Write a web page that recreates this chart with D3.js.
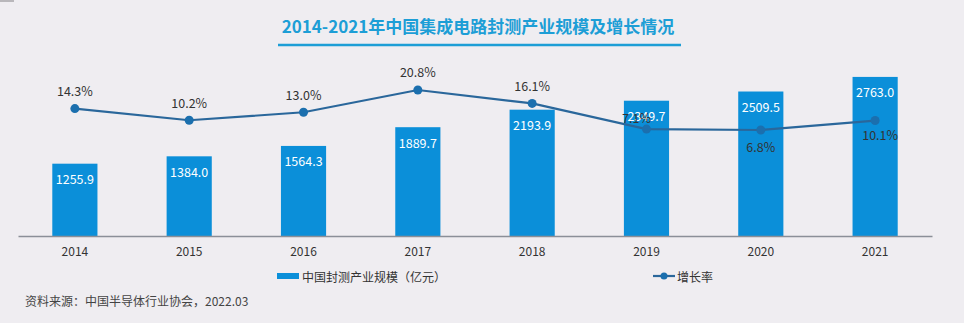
<!DOCTYPE html>
<html>
<head>
<meta charset="utf-8">
<script src="https://cdn.jsdelivr.net/npm/d3@7"></script>
<style>
  html, body { margin: 0; padding: 0; background: #efedf1; }
  svg { display: block; }
</style>
</head>
<body>
<div class="svg-container"></div>
<script>
    const chart_width = 964;
    const chart_height = 323;

    const years = ["2014", "2015", "2016", "2017", "2018", "2019", "2020", "2021"];
    const scale_values = [1255.9, 1384.0, 1564.3, 1889.7, 2193.9, 2349.7, 2509.5, 2763.0];
    const growth_rates = [14.3, 10.2, 13.0, 20.8, 16.1, 7.1, 6.8, 10.1];
    // vertical / horizontal offset of each rate label from its point
    const rate_label_dy = [-18, -18, -18, -18, -18, -12, 17, 14];
    const rate_label_dx = [0, 0, 0, 0, 0, -10, 0, 5];

    const font_cjk = "'Noto Sans CJK SC', 'Noto Sans', sans-serif";

    const svg = d3.select('.svg-container').append('svg')
        .attr('width', chart_width).attr('height', chart_height)
        .style('font-family', font_cjk);

    svg.append('rect')
        .attr('width', chart_width).attr('height', chart_height)
        .attr('fill', '#efedf1');
    // thin grey strip in the top left corner
    svg.append('rect')
        .attr('x', 0).attr('y', 0).attr('width', 14).attr('height', 2)
        .attr('fill', '#b9b7bb');

    // title
    svg.append('text')
        .attr('x', 478).attr('y', 25)
        .attr('text-anchor', 'middle')
        .attr('dominant-baseline', 'central')
        .attr('font-size', 17).attr('font-weight', 'bold')
        .attr('fill', '#1d9ed6')
        .text('2014-2021年中国集成电路封测产业规模及增长情况');
    svg.append('line')
        .attr('x1', 278).attr('x2', 681).attr('y1', 45).attr('y2', 45)
        .attr('stroke', '#1d9ed6').attr('stroke-width', 2.5);

    const x = d3.scaleBand().domain(years).range([18, 932]).paddingInner(0.605).paddingOuter(0.3);
    const y_bar = d3.scaleLinear().domain([0, 3300]).range([236, 46]);
    const y_rate = d3.scaleLinear().domain([0, 25]).range([149.4, 78]);

    const g = svg.append('g');

    // bars
    g.selectAll('rect.bar')
        .data(scale_values)
        .enter().append('rect')
          .attr('class', 'bar')
          .attr('x', (d, i) => x(years[i]))
          .attr('y', d => y_bar(d))
          .attr('width', x.bandwidth())
          .attr('height', d => y_bar(0) - y_bar(d))
          .attr('fill', '#0b8fd9');

    g.selectAll('text.bar-label')
        .data(scale_values)
        .enter().append('text')
          .attr('class', 'bar-label')
          .attr('x', (d, i) => x(years[i]) + x.bandwidth() / 2)
          .attr('y', d => y_bar(d) + 15)
          .attr('text-anchor', 'middle')
          .attr('dominant-baseline', 'central')
          .attr('font-size', 12.5)
          .attr('fill', '#ffffff')
          .text(d => d.toFixed(1));

    // x axis
    const x_axis = g.append('g')
        .attr('transform', 'translate(0,236)')
        .call(d3.axisBottom(x).tickSize(0).tickPadding(11));
    x_axis.select('.domain').attr('stroke', '#8b8f98').attr('stroke-width', 1.5);
    x_axis.selectAll('text')
        .attr('font-size', 12).attr('fill', '#333333')
        .style('font-family', font_cjk);

    // growth line
    const line = d3.line()
        .x((d, i) => x(years[i]) + x.bandwidth() / 2)
        .y(d => y_rate(d));
    g.append('path')
        .datum(growth_rates)
        .attr('d', line)
        .attr('fill', 'none')
        .attr('stroke', '#2a679b')
        .attr('stroke-width', 2.2);
    g.selectAll('circle.pt')
        .data(growth_rates)
        .enter().append('circle')
          .attr('class', 'pt')
          .attr('cx', (d, i) => x(years[i]) + x.bandwidth() / 2)
          .attr('cy', d => y_rate(d))
          .attr('r', 4.5)
          .attr('fill', '#1b6fae');
    g.selectAll('text.rate-label')
        .data(growth_rates)
        .enter().append('text')
          .attr('class', 'rate-label')
          .attr('x', (d, i) => x(years[i]) + x.bandwidth() / 2 + rate_label_dx[i])
          .attr('y', (d, i) => y_rate(d) + rate_label_dy[i])
          .attr('text-anchor', 'middle')
          .attr('dominant-baseline', 'central')
          .attr('font-size', 12.5)
          .attr('fill', '#333333')
          .text(d => d.toFixed(1) + '%');

    // legend
    const legend = svg.append('g');
    legend.append('rect')
        .attr('x', 277).attr('y', 273).attr('width', 22).attr('height', 6)
        .attr('fill', '#0b8fd9');
    legend.append('text')
        .attr('x', 302).attr('y', 276)
        .attr('dominant-baseline', 'central')
        .attr('font-size', 12).attr('fill', '#333333')
        .text('中国封测产业规模（亿元）');
    legend.append('line')
        .attr('x1', 653).attr('x2', 675).attr('y1', 276).attr('y2', 276)
        .attr('stroke', '#2a679b').attr('stroke-width', 2.2);
    legend.append('circle')
        .attr('cx', 664).attr('cy', 276).attr('r', 3.5)
        .attr('fill', '#1b6fae');
    legend.append('text')
        .attr('x', 677).attr('y', 276)
        .attr('dominant-baseline', 'central')
        .attr('font-size', 12).attr('fill', '#333333')
        .text('增长率');

    // source
    svg.append('text')
        .attr('x', 25).attr('y', 300)
        .attr('dominant-baseline', 'central')
        .attr('font-size', 12).attr('fill', '#444444')
        .text('资料来源：中国半导体行业协会，2022.03');
</script>
</body>
</html>
